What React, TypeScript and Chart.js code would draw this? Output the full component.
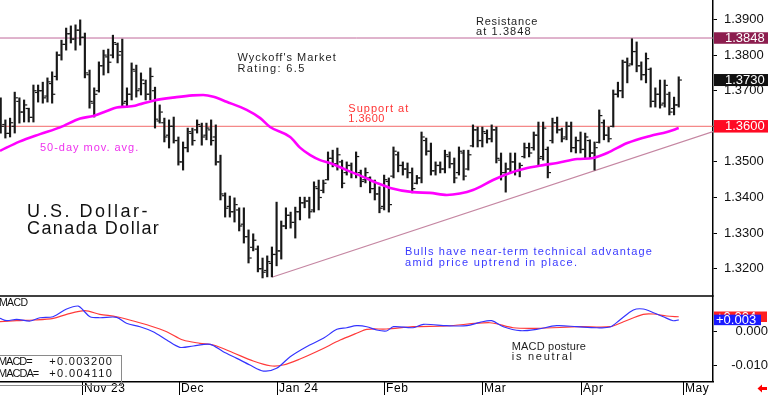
import React, { useEffect, useRef } from "react";
import { Chart, registerables } from "chart.js";

Chart.register(...registerables);

const FONT = '"Liberation Sans", Arial, Helvetica, sans-serif';

// ---- OHLC bars (one per trading day, index 0 = first bar, early Oct 2023) ----
const highs = [
  1.3680, 1.3618, 1.3623, 1.3696, 1.3680, 1.3674, 1.3651, 1.3716, 1.3716, 1.3724,
  1.3736, 1.3753, 1.3809, 1.3842, 1.3876, 1.3882, 1.3885, 1.3899, 1.3862, 1.3758,
  1.3708, 1.3781, 1.3814, 1.3817, 1.3856, 1.3834, 1.3845, 1.3708, 1.3778, 1.3772,
  1.3750, 1.3730, 1.3764, 1.3710, 1.3660, 1.3623, 1.3618, 1.3626, 1.3570, 1.3556,
  1.3595, 1.3595, 1.3618, 1.3609, 1.3609, 1.3618, 1.3604, 1.3519, 1.3413, 1.3404,
  1.3399, 1.3371, 1.3371, 1.3309, 1.3298, 1.3264, 1.3230, 1.3236, 1.3261, 1.3387,
  1.3334, 1.3371, 1.3359, 1.3373, 1.3401, 1.3401, 1.3401, 1.3444, 1.3449, 1.3449,
  1.3528, 1.3533, 1.3539, 1.3505, 1.3500, 1.3497, 1.3528, 1.3477, 1.3483, 1.3458,
  1.3449, 1.3430, 1.3463, 1.3455, 1.3542, 1.3528, 1.3500, 1.3497, 1.3483, 1.3462,
  1.3584, 1.3567, 1.3553, 1.3500, 1.3500, 1.3533, 1.3528, 1.3511, 1.3542, 1.3533,
  1.3533, 1.3604, 1.3598, 1.3598, 1.3590, 1.3604, 1.3598, 1.3525, 1.3497, 1.3525,
  1.3525, 1.3497, 1.3553, 1.3553, 1.3584, 1.3612, 1.3612, 1.3542, 1.3623, 1.3626,
  1.3595, 1.3612, 1.3612, 1.3570, 1.3584, 1.3581, 1.3562, 1.3556, 1.3646, 1.3618,
  1.3598, 1.3702, 1.3724, 1.3786, 1.3792, 1.3846, 1.3837, 1.3781, 1.3806, 1.3764,
  1.3708, 1.3730, 1.3730, 1.3696, 1.3682, 1.3739,
];
const lows = [
  1.3581, 1.3567, 1.3570, 1.3581, 1.3609, 1.3612, 1.3612, 1.3612, 1.3668, 1.3665,
  1.3668, 1.3665, 1.3730, 1.3786, 1.3814, 1.3834, 1.3814, 1.3828, 1.3736, 1.3651,
  1.3626, 1.3696, 1.3744, 1.3750, 1.3792, 1.3778, 1.3654, 1.3654, 1.3674, 1.3682,
  1.3688, 1.3674, 1.3674, 1.3595, 1.3609, 1.3556, 1.3539, 1.3553, 1.3491, 1.3477,
  1.3528, 1.3547, 1.3581, 1.3547, 1.3562, 1.3547, 1.3491, 1.3393, 1.3345, 1.3345,
  1.3331, 1.3306, 1.3272, 1.3216, 1.3250, 1.3191, 1.3174, 1.3177, 1.3177, 1.3208,
  1.3227, 1.3312, 1.3314, 1.3286, 1.3337, 1.3371, 1.3342, 1.3359, 1.3365, 1.3413,
  1.3449, 1.3486, 1.3477, 1.3427, 1.3463, 1.3455, 1.3455, 1.3430, 1.3441, 1.3413,
  1.3393, 1.3357, 1.3365, 1.3359, 1.3455, 1.3472, 1.3463, 1.3455, 1.3413, 1.3438,
  1.3441, 1.3519, 1.3463, 1.3463, 1.3469, 1.3469, 1.3483, 1.3441, 1.3463, 1.3449,
  1.3477, 1.3542, 1.3542, 1.3542, 1.3553, 1.3556, 1.3497, 1.3449, 1.3415, 1.3469,
  1.3463, 1.3458, 1.3511, 1.3514, 1.3533, 1.3491, 1.3505, 1.3455, 1.3553, 1.3581,
  1.3556, 1.3562, 1.3528, 1.3525, 1.3525, 1.3511, 1.3511, 1.3477, 1.3553, 1.3562,
  1.3556, 1.3598, 1.3682, 1.3680, 1.3722, 1.3772, 1.3753, 1.3730, 1.3722, 1.3654,
  1.3654, 1.3651, 1.3654, 1.3632, 1.3632, 1.3654,
];
const opens = [
  1.3640, 1.3605, 1.3580, 1.3600, 1.3670, 1.3640, 1.3650, 1.3625, 1.3695, 1.3700,
  1.3685, 1.3720, 1.3740, 1.3800, 1.3830, 1.3860, 1.3845, 1.3870, 1.3850, 1.3745,
  1.3665, 1.3700, 1.3770, 1.3795, 1.3800, 1.3830, 1.3810, 1.3670, 1.3690, 1.3755,
  1.3705, 1.3720, 1.3690, 1.3700, 1.3615, 1.3610, 1.3575, 1.3600, 1.3560, 1.3500,
  1.3540, 1.3580, 1.3590, 1.3600, 1.3575, 1.3590, 1.3570, 1.3500, 1.3405, 1.3375,
  1.3360, 1.3365, 1.3325, 1.3290, 1.3260, 1.3255, 1.3200, 1.3195, 1.3215, 1.3240,
  1.3250, 1.3320, 1.3350, 1.3330, 1.3360, 1.3385, 1.3390, 1.3365, 1.3425, 1.3420,
  1.3450, 1.3510, 1.3495, 1.3500, 1.3470, 1.3490, 1.3470, 1.3470, 1.3450, 1.3455,
  1.3425, 1.3410, 1.3375, 1.3445, 1.3460, 1.3520, 1.3490, 1.3480, 1.3470, 1.3440,
  1.3455, 1.3560, 1.3530, 1.3475, 1.3490, 1.3480, 1.3515, 1.3495, 1.3470, 1.3525,
  1.3480, 1.3545, 1.3590, 1.3560, 1.3580, 1.3565, 1.3590, 1.3505, 1.3470, 1.3480,
  1.3500, 1.3475, 1.3515, 1.3540, 1.3540, 1.3575, 1.3515, 1.3535, 1.3560, 1.3610,
  1.3590, 1.3570, 1.3600, 1.3540, 1.3560, 1.3535, 1.3560, 1.3525, 1.3555, 1.3610,
  1.3575, 1.3600, 1.3690, 1.3700, 1.3780, 1.3775, 1.3810, 1.3770, 1.3745, 1.3760,
  1.3670, 1.3690, 1.3665, 1.3690, 1.3650, 1.3660,
];
const closes = [
  1.3600, 1.3580, 1.3610, 1.3680, 1.3640, 1.3660, 1.3625, 1.3700, 1.3700, 1.3680,
  1.3725, 1.3690, 1.3800, 1.3830, 1.3860, 1.3845, 1.3870, 1.3850, 1.3750, 1.3670,
  1.3690, 1.3770, 1.3800, 1.3780, 1.3835, 1.3800, 1.3665, 1.3690, 1.3760, 1.3700,
  1.3730, 1.3690, 1.3740, 1.3620, 1.3640, 1.3570, 1.3600, 1.3560, 1.3500, 1.3540,
  1.3585, 1.3560, 1.3605, 1.3570, 1.3595, 1.3560, 1.3500, 1.3410, 1.3370, 1.3360,
  1.3380, 1.3320, 1.3290, 1.3230, 1.3280, 1.3200, 1.3190, 1.3220, 1.3240, 1.3250,
  1.3320, 1.3350, 1.3330, 1.3360, 1.3385, 1.3390, 1.3360, 1.3430, 1.3400, 1.3440,
  1.3510, 1.3495, 1.3520, 1.3440, 1.3490, 1.3470, 1.3515, 1.3445, 1.3470, 1.3425,
  1.3410, 1.3370, 1.3450, 1.3380, 1.3530, 1.3490, 1.3480, 1.3470, 1.3425, 1.3455,
  1.3570, 1.3530, 1.3475, 1.3490, 1.3480, 1.3520, 1.3495, 1.3455, 1.3530, 1.3460,
  1.3520, 1.3590, 1.3560, 1.3585, 1.3565, 1.3590, 1.3510, 1.3470, 1.3480, 1.3500,
  1.3475, 1.3490, 1.3540, 1.3525, 1.3575, 1.3510, 1.3595, 1.3470, 1.3610, 1.3590,
  1.3565, 1.3600, 1.3540, 1.3560, 1.3535, 1.3570, 1.3525, 1.3540, 1.3630, 1.3575,
  1.3565, 1.3690, 1.3700, 1.3780, 1.3770, 1.3810, 1.3770, 1.3745, 1.3790, 1.3670,
  1.3690, 1.3660, 1.3715, 1.3640, 1.3660, 1.3730,
];

// ---- 50-day moving average (bar index, value) ----
const maIdx = [
  -0.15, 4, 8.4, 12.7, 17, 19.8, 22.7, 24.8, 26.9, 28.7, 32.6, 37.6, 41, 43.3, 45.5,
  48.3, 52.6, 55.5, 57.6, 61.9, 64, 66.2, 68.3, 70.4, 74, 77.5, 80.4, 83.3, 88.2, 91.8,
  95.4, 98.2, 101, 105.3, 108.9, 112.6, 116, 119, 123.3, 126.7, 129.7, 134, 138.9, 142.5, 145,
];
const maVal = [
  1.3531, 1.3557, 1.3578, 1.3597, 1.3622, 1.3629, 1.3643, 1.3653, 1.3655, 1.3658, 1.3672,
  1.3682, 1.3687, 1.3688, 1.3683, 1.3669, 1.3646, 1.3623, 1.3598, 1.3570, 1.3540, 1.3519,
  1.3505, 1.3497, 1.3477, 1.3458, 1.3441, 1.3427, 1.3415, 1.3413, 1.3407, 1.3411, 1.3421,
  1.3449, 1.3469, 1.3483, 1.3491, 1.3497, 1.3508, 1.3511, 1.3525, 1.3553, 1.3573, 1.3584, 1.3595,
];

// ---- MACD (blue) and MACD average (red) ----
const macdIdx = [
  -0.15, 1.3, 3.4, 6.3, 8.4, 11.2, 14.1, 16.6, 17.6, 19.1, 21.2, 24.8, 26.9, 29.8, 32.6,
  35.5, 38.3, 41.2, 44.8, 47.6, 50.5, 53.3, 56.2, 59.0, 61.9, 65.4, 69.0, 71.9, 74.0, 76.1,
  78.3, 80.4, 82.5, 84.0, 88.2, 90.4, 95.4, 99.7, 102.5, 105.0, 107.5, 111.1, 114.6, 118.9,
  123.2, 127.5, 130.3, 132.4, 135.3, 137.4, 139.6, 141.7, 143.8, 145,
];
const macdVal = [
  0.00366, 0.00297, 0.00337, 0.00288, 0.00383, 0.00412, 0.00634, 0.0072, 0.00605, 0.00412,
  0.00383, 0.00395, 0.00222, 0.00124, -0.0002, -0.00259, -0.0047, -0.00432, -0.00383, -0.00597,
  -0.00787, -0.0098, -0.01153, -0.01075, -0.00741, -0.00452, -0.0021, 0.00049, 0.00095, 0.00153,
  0.00124, 0.00029, 0.0, 0.00124, 0.00095, 0.00193, 0.00153, 0.00153, 0.00251, 0.00297,
  0.00124, 0.0001, 0.00049, 0.00153, 0.00124, 0.00095, 0.00115, 0.00317, 0.00605, 0.00634,
  0.00527, 0.00412, 0.00297, 0.0032,
];
const sigIdx = [
  -0.15, 3.4, 7.0, 11.25, 14.1, 18.0, 21.2, 24.8, 28.4, 31.9, 35.5, 39.0, 42.6, 45.5, 49.7,
  54.0, 57.6, 60.4, 64.0, 68.3, 72.6, 76.1, 78.3, 82.5, 88.2, 95.4, 104.6, 109.6, 114.6,
  123.9, 130.3, 133.2, 137.4, 139.6, 142.4, 145,
];
const sigVal = [
  0.00268, 0.00297, 0.00317, 0.00366, 0.00481, 0.00585, 0.00481, 0.00412, 0.00288, 0.00153,
  -0.0002, -0.00259, -0.00354, -0.00403, -0.00625, -0.00865, -0.01, -0.0098, -0.00807, -0.00548,
  -0.00259, -0.00066, 0.00049, 0.00058, 0.00124, 0.00144, 0.00239, 0.00095, 0.00078, 0.00124,
  0.00124, 0.00268, 0.00481, 0.0049, 0.00432, 0.00411,
];

// ---- axes / levels ----
const monthTicks = [17.3, 38.2, 59.0, 82.0, 103.0, 124.1, 146.0];
const monthLabels = ["Nov 23", "Dec", "Jan 24", "Feb", "Mar", "Apr", "May"];
const priceTicks = [1.32, 1.33, 1.34, 1.35, 1.36, 1.37, 1.38, 1.39];
const macdTicks = [-0.01, 0];
const resistance = 1.3848;
const support = 1.36;
const lastClose = 1.373;
const trendFrom = { x: 58, y: 1.3176 };
const trendTo = { x: 152.33, y: 1.3585 };
const macdLast = 0.0032;
const macdaLast = 0.00411;

const X_MIN = -0.15;
const X_MAX = 152.33;

type Note = { t: string; x: number; y: number; s: number; c: string; p: number };
const notes: Note[] = [
  { t: "Resistance", x: 476, y: 21.7, s: 11, c: "#1e1e1e", p: 6.2 },
  { t: "at 1.3848", x: 476, y: 32.3, s: 11, c: "#1e1e1e", p: 6.2 },
  { t: "Wyckoff's Market", x: 237.5, y: 58.3, s: 11, c: "#1e1e1e", p: 6.2 },
  { t: "Rating: 6.5", x: 237.5, y: 69, s: 11, c: "#1e1e1e", p: 6.2 },
  { t: "Support at", x: 348.3, y: 109, s: 11, c: "#ff3434", p: 6.1 },
  { t: "1.3600", x: 348.3, y: 119, s: 11, c: "#ff3434", p: 6.1 },
  { t: "50-day mov. avg.", x: 40, y: 147.7, s: 11, c: "#ee33ee", p: 6.2 },
  { t: "U.S. Dollar-", x: 27, y: 212, s: 18, c: "#111111", p: 10.25 },
  { t: "Canada Dollar", x: 27, y: 229, s: 18, c: "#111111", p: 10.25 },
  { t: "Bulls have near-term technical advantage", x: 405, y: 252.3, s: 11, c: "#3a3aff", p: 6.2 },
  { t: "amid price uptrend in place.", x: 405, y: 263, s: 11, c: "#3a3aff", p: 6.2 },
  { t: "MACD", x: -1, y: 303.3, s: 10.5, c: "#111111", p: 7.1 },
  { t: "MACD posture", x: 511.7, y: 347, s: 11, c: "#1e1e1e", p: 6.2 },
  { t: "is neutral", x: 511.7, y: 356.7, s: 11, c: "#1e1e1e", p: 6.2 },
  { t: "MACD=", x: -2, y: 362.3, s: 11, c: "#111111", p: 6.7 },
  { t: "+0.003200", x: 49.3, y: 362.3, s: 11, c: "#111111", p: 7.1 },
  { t: "MACDA=", x: -2, y: 373.7, s: 11, c: "#111111", p: 6.7 },
  { t: "+0.004110", x: 49.3, y: 373.7, s: 11, c: "#111111", p: 7.1 },
];

function drawSpaced(ctx: CanvasRenderingContext2D, n: Note) {
  ctx.save();
  ctx.font = `${n.s}px ${FONT}`;
  ctx.fillStyle = n.c;
  ctx.textBaseline = "middle";
  ctx.textAlign = "left";
  const w = ctx.measureText(n.t).width;
  const ls = (n.p * n.t.length - w) / n.t.length;
  (ctx as any).letterSpacing = `${ls.toFixed(2)}px`;
  ctx.fillText(n.t, n.x, n.y);
  ctx.restore();
}

function drawBox(
  ctx: CanvasRenderingContext2D,
  x: number,
  y: number,
  w: number,
  h: number,
  bg: string,
  text: string,
  tx: number
) {
  ctx.save();
  ctx.fillStyle = bg;
  ctx.fillRect(x, y - h / 2, w, h);
  ctx.fillStyle = "#ffffff";
  ctx.font = `13px ${FONT}`;
  ctx.textBaseline = "middle";
  ctx.textAlign = "left";
  ctx.fillText(text, tx, y + 0.5);
  ctx.restore();
}

const zeroPad = (s: any) => {
  s.width = 55;
  s.paddingTop = 0;
  s.paddingBottom = 0;
  s.paddingLeft = 0;
  s.paddingRight = 0;
};

const overlayPlugin = {
  id: "wyckoffOverlay",
  afterDraw(chart: any) {
    const ctx: CanvasRenderingContext2D = chart.ctx;
    const area = chart.chartArea;
    const x = chart.scales.x;
    const yP = chart.scales.yP;
    const yM = chart.scales.yM;

    // panel separator
    ctx.save();
    ctx.strokeStyle = "#000";
    ctx.lineWidth = 1.5;
    ctx.beginPath();
    ctx.moveTo(area.left, yP.bottom);
    ctx.lineTo(area.right, yP.bottom);
    ctx.stroke();
    ctx.restore();

    // month separators + labels under the time axis
    ctx.save();
    ctx.strokeStyle = "#000";
    ctx.lineWidth = 1;
    ctx.fillStyle = "#000";
    ctx.font = `12px ${FONT}`;
    ctx.textBaseline = "middle";
    ctx.textAlign = "left";
    (ctx as any).letterSpacing = "0.6px";
    monthTicks.forEach((v, i) => {
      const px = Math.round(x.getPixelForValue(v)) + 0.5;
      ctx.beginPath();
      ctx.moveTo(px, x.top);
      ctx.lineTo(px, chart.height);
      ctx.stroke();
      ctx.fillText(monthLabels[i], px + 1.5, x.top + 7);
    });
    ctx.restore();

    // legend box in MACD panel
    ctx.save();
    ctx.strokeStyle = "#8a8a8a";
    ctx.lineWidth = 1;
    ctx.strokeRect(-1.5, 355.5, 123, 30);
    ctx.restore();

    notes.forEach((n) => drawSpaced(ctx, n));

    // right axis value boxes
    const bx = area.right + 1;
    const full = chart.width - bx;
    drawBox(ctx, bx, yP.getPixelForValue(resistance), full, 11.5, "#8c1d4e", resistance.toFixed(4), 725);
    drawBox(ctx, bx, yP.getPixelForValue(lastClose), full, 12, "#111111", lastClose.toFixed(4), 725);
    drawBox(ctx, bx, yP.getPixelForValue(support), full, 12.5, "#ff0a24", support.toFixed(4), 725);
    drawBox(ctx, bx, yM.getPixelForValue(macdaLast), 53, 10.5, "#ff2020", "+" + macdaLast.toFixed(3), 716);
    drawBox(ctx, bx, yM.getPixelForValue(macdLast), 47, 10.5, "#1a1aff", "+" + macdLast.toFixed(3), 716);

    // small red arrow bottom right
    ctx.save();
    ctx.fillStyle = "#ff0000";
    ctx.beginPath();
    ctx.moveTo(757.5, 388.5);
    ctx.lineTo(762, 384.5);
    ctx.lineTo(762, 392.5);
    ctx.closePath();
    ctx.fill();
    ctx.fillRect(761.5, 387, 5.5, 3);
    ctx.restore();
  },
};

export default function App() {
  const ref = useRef<HTMLCanvasElement | null>(null);

  useEffect(() => {
    document.body.style.margin = "0";
    const canvas = ref.current;
    if (!canvas) return;

    const barData = highs.map((h, i) => ({ x: i, y: [lows[i], h] }));
    const openData = opens.map((o, i) => ({ x: i - 0.42, y: o }));
    const closeData = closes.map((c, i) => ({ x: i + 0.42, y: c }));
    const maData = maIdx.map((x, k) => ({ x, y: maVal[k] }));
    const macdData = macdIdx.map((x, k) => ({ x, y: macdVal[k] }));
    const sigData = sigIdx.map((x, k) => ({ x, y: sigVal[k] }));

    const chart = new Chart(canvas, {
      type: "line",
      data: {
        datasets: [
          {
            type: "line",
            data: [{ x: X_MIN, y: resistance }, { x: X_MAX, y: resistance }],
            borderColor: "#c0689a",
            borderWidth: 1,
            pointRadius: 0,
            yAxisID: "yP",
            order: 20,
          },
          {
            type: "line",
            data: [{ x: X_MIN, y: support }, { x: X_MAX, y: support }],
            borderColor: "#f26a6a",
            borderWidth: 1,
            pointRadius: 0,
            yAxisID: "yP",
            order: 19,
          },
          {
            type: "line",
            data: [trendFrom, trendTo],
            borderColor: "#c586a2",
            borderWidth: 1.2,
            pointRadius: 0,
            yAxisID: "yP",
            order: 18,
          },
          {
            type: "bar",
            data: barData as any,
            backgroundColor: "#181818",
            barThickness: 1.5,
            yAxisID: "yP",
            order: 6,
          },
          {
            type: "line",
            data: openData,
            showLine: false,
            pointStyle: "line",
            pointRadius: 1.2,
            pointBorderWidth: 1.2,
            pointBorderColor: "#181818",
            yAxisID: "yP",
            order: 5,
          },
          {
            type: "line",
            data: closeData,
            showLine: false,
            pointStyle: "line",
            pointRadius: 1.2,
            pointBorderWidth: 1.2,
            pointBorderColor: "#181818",
            yAxisID: "yP",
            order: 4,
          },
          {
            type: "line",
            data: maData,
            borderColor: "#ff00ff",
            borderWidth: 2.6,
            pointRadius: 0,
            cubicInterpolationMode: "monotone",
            yAxisID: "yP",
            order: 3,
          },
          {
            type: "line",
            data: sigData,
            borderColor: "#ff3a3a",
            borderWidth: 1.2,
            pointRadius: 0,
            tension: 0.3,
            yAxisID: "yM",
            order: 2,
          },
          {
            type: "line",
            data: macdData,
            borderColor: "#3434ff",
            borderWidth: 1.2,
            pointRadius: 0,
            tension: 0.3,
            yAxisID: "yM",
            order: 1,
          },
        ],
      },
      options: {
        animation: false,
        responsive: false,
        devicePixelRatio: 1,
        events: [],
        layout: { padding: 0, autoPadding: false },
        plugins: { legend: { display: false }, tooltip: { enabled: false } },
        scales: {
          x: {
            type: "linear",
            position: "bottom",
            min: X_MIN,
            max: X_MAX,
            offset: false,
            afterBuildTicks: (s: any) => {
              s.ticks = monthTicks.map((v) => ({ value: v }));
            },
            afterFit: (s: any) => {
              s.height = 13.3;
              s.paddingLeft = 0;
              s.paddingRight = 0;
              s.paddingTop = 0;
              s.paddingBottom = 0;
            },
            ticks: { display: false },
            grid: { display: false },
            border: { display: true, color: "#000", width: 1.5 },
          },
          yP: {
            type: "linear",
            position: "right",
            stack: "v",
            stackWeight: 296,
            min: 1.31233,
            max: 1.39548,
            afterBuildTicks: (s: any) => {
              s.ticks = priceTicks.map((v) => ({ value: v }));
            },
            afterFit: zeroPad,
            ticks: {
              autoSkip: false,
              padding: 7,
              color: "#111",
              font: { family: FONT, size: 13 },
              callback: (v: any) => Number(v).toFixed(4),
            },
            grid: { drawOnChartArea: false, drawTicks: true, tickLength: 4, color: "#000" },
            border: { display: true, color: "#000", width: 1.5 },
          },
          yM: {
            type: "linear",
            position: "right",
            stack: "v",
            stackWeight: 85.7,
            min: -0.0146,
            max: 0.01009,
            afterBuildTicks: (s: any) => {
              s.ticks = macdTicks.map((v) => ({ value: v }));
            },
            afterFit: zeroPad,
            ticks: {
              autoSkip: false,
              padding: 7,
              crossAlign: "far",
              color: "#111",
              font: { family: FONT, size: 13 },
              callback: (v: any) => (Number(v) === 0 ? "0.000" : Number(v).toFixed(3)),
            },
            grid: { drawOnChartArea: false, drawTicks: true, tickLength: 4, color: "#000" },
            border: { display: true, color: "#000", width: 1.5 },
          },
        },
      } as any,
      plugins: [overlayPlugin],
    });

    return () => chart.destroy();
  }, []);

  return (
    <div
      style={{
        position: "fixed",
        left: 0,
        top: 0,
        width: 768,
        height: 395,
        background: "#ffffff",
        overflow: "hidden",
      }}
    >
      <canvas ref={ref} width={768} height={395} style={{ display: "block", width: 768, height: 395 }} />
    </div>
  );
}
